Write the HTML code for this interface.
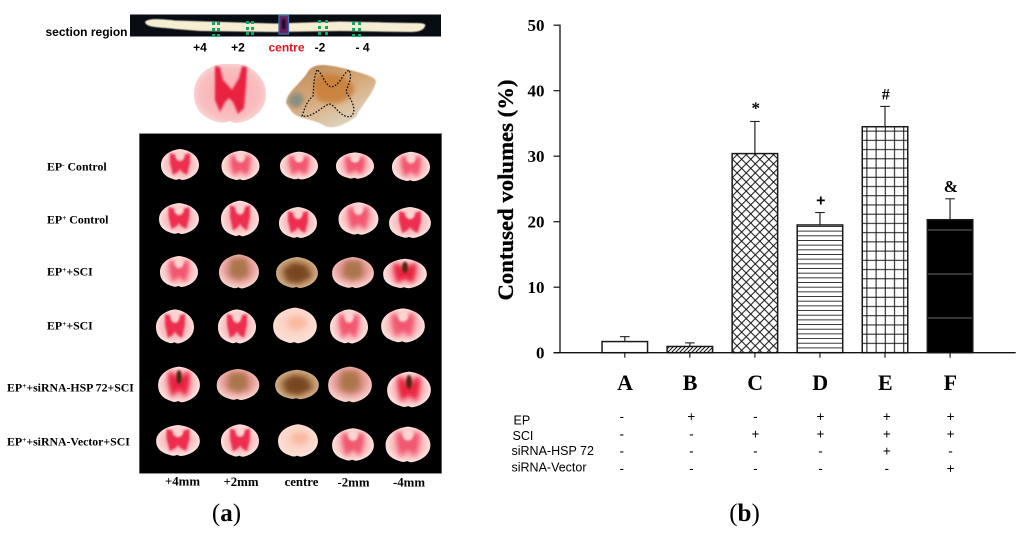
<!DOCTYPE html>
<html lang="en">
<head>
<meta charset="utf-8">
<title>Contused volumes figure</title>
<style>
html,body{margin:0;padding:0;background:#fff;}
#figure{display:block;width:1024px;height:538px;}
text{fill:#000;}
.serif{font-family:"Liberation Serif",serif;font-weight:bold;}
.sans{font-family:"Liberation Sans",sans-serif;}
</style>
</head>
<body>
<svg id="figure" xmlns="http://www.w3.org/2000/svg" width="1024" height="538" viewBox="0 0 1024 538">
<defs>
  <filter id="soft" x="-20%" y="-20%" width="140%" height="140%"><feGaussianBlur stdDeviation="0.4"/></filter>
  <filter id="blur1" x="-30%" y="-30%" width="160%" height="160%"><feGaussianBlur stdDeviation="1"/></filter>
  <filter id="blur2" x="-40%" y="-40%" width="180%" height="180%"><feGaussianBlur stdDeviation="2.2"/></filter>
  <radialGradient id="tissue" cx="50%" cy="50%" r="58%">
    <stop offset="0" stop-color="#f7a8b0"/><stop offset="0.62" stop-color="#fac4c4"/><stop offset="1" stop-color="#fef1ec"/>
  </radialGradient>
  <radialGradient id="tissue-big" cx="50%" cy="50%" r="56%">
    <stop offset="0" stop-color="#f9a9ae"/><stop offset="0.75" stop-color="#f9bfc1"/><stop offset="1" stop-color="#fbdcdb"/>
  </radialGradient>
  <radialGradient id="tissue-pale" cx="50%" cy="45%" r="60%">
    <stop offset="0" stop-color="#fbc6b4"/><stop offset="1" stop-color="#fde3da"/>
  </radialGradient>
  <radialGradient id="tissue-brown" cx="50%" cy="50%" r="58%">
    <stop offset="0" stop-color="#8d5b30"/><stop offset="0.6" stop-color="#b98a5e"/><stop offset="1" stop-color="#d9bfa2"/>
  </radialGradient>
  <radialGradient id="tissue-mixed" cx="50%" cy="42%" r="60%">
    <stop offset="0" stop-color="#b47650"/><stop offset="0.55" stop-color="#e59a95"/><stop offset="1" stop-color="#fbdcd6"/>
  </radialGradient>
  <linearGradient id="contused-fill" x1="0" y1="0" x2="0.6" y2="1">
    <stop offset="0" stop-color="#b98a58"/><stop offset="0.5" stop-color="#d6a676"/><stop offset="1" stop-color="#ded3bd"/>
  </linearGradient>
  <path id="outline" d="M-19,0 C-19,-9 -10,-15 0,-16 C10,-15 19,-9 19,0 C19,9 10,14 3,15 C1,15 0,14 -1,14 C-3,15 -5,15 -7,14 C-14,12 -19,8 -19,0 Z"/>
  <path id="butterfly" d="M-10,-12 L-4,-10 L0,-4 L4,-10 L10,-12 L10,-2 L7,10 L2,7 L0,4 L-2,7 L-7,10 L-10,-2 Z"/>
  <g id="sec-red">
    <use href="#outline" fill="url(#tissue)"/>
    <use href="#butterfly" fill="#ee2f50" filter="url(#blur1)"/>
    <ellipse cx="0" cy="-9" rx="4.5" ry="5" fill="#fbd3cf" filter="url(#blur1)"/>
  </g>
  <g id="sec-light">
    <use href="#outline" fill="url(#tissue)"/>
    <use href="#butterfly" fill="#f2566f" filter="url(#blur2)"/>
    <ellipse cx="0" cy="-9" rx="4.5" ry="5" fill="#fbd3cf" filter="url(#blur1)"/>
  </g>
  <g id="sec-brown">
    <use href="#outline" fill="url(#tissue-brown)"/>
    <path d="M-12,-3 L-3,-10 L8,-7 L13,3 L2,10 L-9,8 Z" fill="#6f3f1c" filter="url(#blur2)" opacity=".8"/>
  </g>
  <g id="sec-mixed">
    <use href="#outline" fill="url(#tissue-mixed)"/>
    <path d="M-7,-12 L7,-12 L9,3 L0,7 L-9,3 Z" fill="#a8744a" filter="url(#blur2)" opacity=".85"/>
  </g>
  <g id="sec-pale">
    <use href="#outline" fill="url(#tissue-pale)"/>
    <ellipse cx="2" cy="-3" rx="8" ry="5" fill="#f9b89f" filter="url(#blur2)"/>
  </g>
  <g id="sec-core">
    <use href="#outline" fill="url(#tissue)"/>
    <use href="#butterfly" fill="#ea2240" filter="url(#blur2)"/>
    <ellipse cx="0" cy="-7" rx="2.6" ry="6" fill="#52210f" filter="url(#blur1)"/>
  </g>

  <pattern id="hatch-b" patternUnits="userSpaceOnUse" width="4" height="4">
    <path d="M-1,1 L1,-1 M0,4 L4,0 M3,5 L5,3" stroke="#111" stroke-width="1"/>
  </pattern>
  <pattern id="hatch-c" patternUnits="userSpaceOnUse" width="9.1" height="9.1">
    <path d="M0,0 L9.1,9.1 M9.1,0 L0,9.1" stroke="#111" stroke-width="1"/>
  </pattern>
  <pattern id="hatch-d" patternUnits="userSpaceOnUse" width="10" height="4.67">
    <line x1="0" x2="10" y1="2.3" y2="2.3" stroke="#222" stroke-width="0.9"/>
  </pattern>
  <pattern id="hatch-e" patternUnits="userSpaceOnUse" width="9.2" height="9.23" patternTransform="translate(862.3,126.5)">
    <path d="M4.6,0 V9.23 M0,4.6 H9.2" stroke="#111" stroke-width="1"/>
  </pattern>
  <pattern id="hatch-f" patternUnits="userSpaceOnUse" width="10" height="44" patternTransform="translate(0,208)">
    <rect width="10" height="44" fill="#000"/>
    <line x1="0" x2="10" y1="22" y2="22" stroke="#777" stroke-width="0.9"/>
  </pattern>
</defs>

<!-- Panel (a): section region strip -->
<g>
  <text class="sans" x="45.5" y="36" font-size="12" font-weight="bold">section region</text>
  <rect x="130" y="14.5" width="311" height="22" fill="#080d14"/>
  <path d="M145,22 C148,18 160,19 175,20.5 L275,23.5 L340,21.5 L412,23 C420,23 424,23 425.5,25 C424,30 420,32 410,32 L340,31 L275,32 L200,31 L175,29 C160,27 146,28 145,22 Z" fill="#f6eed2" filter="url(#soft)"/>
  <g fill="#0ba868">
    <rect x="212" y="22" width="3" height="3"/><rect x="217" y="22" width="3" height="3"/><rect x="212" y="28" width="3" height="3"/><rect x="217" y="28" width="3" height="3"/><rect x="212" y="34" width="3" height="3"/><rect x="217" y="34" width="3" height="3"/>
    <rect x="246" y="21" width="3" height="3"/><rect x="251" y="21" width="3" height="3"/><rect x="246" y="27" width="3" height="3"/><rect x="251" y="27" width="3" height="3"/><rect x="246" y="32" width="3" height="3"/><rect x="251" y="32" width="3" height="3"/>
    <rect x="318" y="20" width="3" height="3"/><rect x="325" y="20" width="3" height="3"/><rect x="318" y="26" width="3" height="3"/><rect x="325" y="26" width="3" height="3"/><rect x="318" y="32" width="3" height="3"/><rect x="325" y="32" width="3" height="3"/>
    <rect x="352" y="22" width="3" height="3"/><rect x="358" y="22" width="3" height="3"/><rect x="352" y="28" width="3" height="3"/><rect x="358" y="28" width="3" height="3"/><rect x="352" y="34" width="3" height="3"/><rect x="358" y="34" width="3" height="3"/>
  </g>
  <rect x="279" y="15.5" width="9.5" height="18.5" fill="#6a1f62" stroke="#3a6fa5" stroke-width="1.3"/>
  <rect x="282" y="19" width="3.5" height="10" fill="#1a1030" filter="url(#soft)"/>
  <g class="sans" font-size="12" font-weight="bold">
    <text x="200" y="51.5" text-anchor="middle">+4</text>
    <text x="238" y="51.5" text-anchor="middle">+2</text>
    <text x="286.5" y="51.5" text-anchor="middle" style="fill:#e0141e">centre</text>
    <text x="320" y="51.5" text-anchor="middle">-2</text>
    <text x="362.5" y="51.5" text-anchor="middle">- 4</text>
  </g>
</g>

<!-- Enlarged sections -->
<g transform="translate(230,94)">
  <path d="M-36,0 C-36,-17 -24,-28 -8,-30 L8,-30 C24,-28 36,-15 36,0 C36,18 20,28 6,29 C3,29 1,27 -1,27 C-4,29 -8,29 -12,28 C-26,25 -36,16 -36,0 Z" fill="url(#tissue-big)"/>
  <path d="M-15,-28 L-10,-27 L-7,-14 L2,-4 L9,-16 L12,-28 L17,-27 L16,-8 L14,14 L8,20 L3,8 L-1,4 L-5,8 L-10,18 L-15,6 Z" fill="#ea2240" filter="url(#blur1)"/>
</g>
<g>
  <path d="M286,103 C288,90 300,85 309,70 C316,62 330,65 347,69 C360,73 376,76 376,82 C372,96 362,104 356,117 C345,124 335,130 325,126 C312,118 300,120 292,112 Z" fill="url(#contused-fill)" filter="url(#soft)"/>
  <path d="M318,75 C335,70 352,78 355,90 C348,102 335,108 318,100 C312,90 312,82 318,75 Z" fill="#c97a30" filter="url(#blur2)" opacity=".8"/>
  <path d="M288,100 C293,90 302,90 304,100 C300,110 292,110 288,100 Z" fill="#8a8f82" filter="url(#blur2)"/>
  <path d="M317,70 C313,80 314,88 313,96 C305,103 304,112 302,116 C312,118 320,108 329,104 C335,104 338,116 350,117 C358,112 352,100 346,92 C348,84 353,78 349,70 C342,74 340,86 331,87 C324,84 322,72 317,70 Z" fill="none" stroke="#111" stroke-width="1.3" stroke-dasharray="1.6 1.6"/>
</g>

<!-- Photo grid -->
<g>
  <rect x="139.3" y="133.5" width="302.4" height="340" fill="#000" stroke="#999" stroke-width="0.6"/>
  <use href="#sec-red"   transform="translate(180,165) scale(1,1)"/>
  <use href="#sec-light" transform="translate(240.5,166) scale(1,.95)"/>
  <use href="#sec-light" transform="translate(299,166) scale(1,.9)"/>
  <use href="#sec-light" transform="translate(355,166) scale(1,.85)"/>
  <use href="#sec-light" transform="translate(411,167) scale(1,.95)"/>
  <use href="#sec-red"   transform="translate(179,219) scale(1.05,1)"/>
  <use href="#sec-red"   transform="translate(240,219) scale(1,1.15)"/>
  <use href="#sec-red"   transform="translate(298,223) scale(1,1)"/>
  <use href="#sec-light" transform="translate(358.5,219) scale(1.05,1.05)"/>
  <use href="#sec-red"   transform="translate(410,223) scale(1.1,1)"/>
  <use href="#sec-light" transform="translate(179,272) scale(1,1)"/>
  <use href="#sec-mixed" transform="translate(239,272) scale(1.05,1.1)"/>
  <use href="#sec-brown" transform="translate(297,273) scale(1.1,1)"/>
  <use href="#sec-mixed" transform="translate(353,273) scale(1.1,1)"/>
  <use href="#sec-core"  transform="translate(405,274) scale(1.15,.95)"/>
  <use href="#sec-red"   transform="translate(175,327) scale(1,1.1)"/>
  <use href="#sec-red"   transform="translate(237,327) scale(1,1.1)"/>
  <use href="#sec-pale"  transform="translate(295,326) scale(1.15,1.15)"/>
  <use href="#sec-light" transform="translate(349,327) scale(1,1.1)"/>
  <use href="#sec-light" transform="translate(403,326) scale(1.15,1.1)"/>
  <use href="#sec-core"  transform="translate(179,385) scale(1.1,1.15)"/>
  <use href="#sec-mixed" transform="translate(238,385) scale(1.12,1)"/>
  <use href="#sec-brown" transform="translate(297,385) scale(1.15,.95)"/>
  <use href="#sec-mixed" transform="translate(350,385) scale(1.15,1.15)"/>
  <use href="#sec-core"  transform="translate(409,390) scale(1.15,1.15)"/>
  <use href="#sec-red"   transform="translate(178,441) scale(1.15,1)"/>
  <use href="#sec-red"   transform="translate(240,441) scale(1,1.05)"/>
  <use href="#sec-pale"  transform="translate(298,441) scale(1.05,1.05)"/>
  <use href="#sec-light" transform="translate(353,445) scale(1.1,1.05)"/>
  <use href="#sec-light" transform="translate(408,445) scale(1.18,1.15)"/>
</g>

<!-- Row labels -->
<g class="serif" font-size="11.8">
  <text x="47" y="170.5">EP<tspan font-size="7.5" dy="-3.5">-</tspan><tspan dy="3.5"> Control</tspan></text>
  <text x="47" y="223.5">EP<tspan font-size="7.5" dy="-3.5">+</tspan><tspan dy="3.5"> Control</tspan></text>
  <text x="47" y="275.5">EP<tspan font-size="7.5" dy="-3.5">+</tspan><tspan dy="3.5">+SCI</tspan></text>
  <text x="47" y="329.5">EP<tspan font-size="7.5" dy="-3.5">+</tspan><tspan dy="3.5">+SCI</tspan></text>
  <text x="7" y="391.5">EP<tspan font-size="7.5" dy="-3.5">+</tspan><tspan dy="3.5">+siRNA-HSP 72+SCI</tspan></text>
  <text x="7" y="445.5">EP<tspan font-size="7.5" dy="-3.5">+</tspan><tspan dy="3.5">+siRNA-Vector+SCI</tspan></text>
</g>
<g class="serif" font-size="12.8" text-anchor="middle">
  <text x="182.5" y="485.5">+4mm</text>
  <text x="241" y="486">+2mm</text>
  <text x="301.5" y="486">centre</text>
  <text x="353.5" y="486.5">-2mm</text>
  <text x="409" y="486.5">-4mm</text>
</g>
<text x="226.5" y="521" text-anchor="middle" font-family="Liberation Serif, serif" font-size="25">(<tspan font-weight="bold">a</tspan>)</text>
<text x="744.5" y="521" text-anchor="middle" font-family="Liberation Serif, serif" font-size="25">(<tspan font-weight="bold">b</tspan>)</text>

<!-- Panel (b): chart -->
<g id="chart"></g>
<g id="condition-table"></g>

<script>
const categories = ['A', 'B', 'C', 'D', 'E', 'F'];
const barValues = [1.7, 0.95, 30.4, 19.5, 34.5, 20.3];
const errorValues = [0.75, 0.55, 4.9, 1.9, 3.1, 3.2];
const significance = ['', '', '*', '+', '#', '&'];
const yTicks = [0, 10, 20, 30, 40, 50];
const hatches = ['#fff', 'url(#hatch-b)', 'url(#hatch-c)', 'url(#hatch-d)', 'url(#hatch-e)', 'url(#hatch-f)'];
const conditionNames = ['EP', 'SCI', 'siRNA-HSP 72', 'siRNA-Vector'];
const conditionEP = ['-', '+', '-', '+', '+', '+'];
const conditionSCI = ['-', '-', '+', '+', '+', '+'];
const conditionHSP = ['-', '-', '-', '-', '+', '-'];
const conditionVector = ['-', '-', '-', '-', '-', '+'];

const NS = 'http://www.w3.org/2000/svg';
const chart = document.getElementById('chart');
const tableGroup = document.getElementById('condition-table');

function yScale(v) { return 352.7 - v * 6.55; }
function xScale(i) { return 624.8 + i * 65.05; }
function make(tag, parent, attrs, text) {
  const el = document.createElementNS(NS, tag);
  for (const k in attrs) el.setAttribute(k, attrs[k]);
  if (text !== undefined) el.textContent = text;
  parent.appendChild(el);
  return el;
}
const barWidth = 45.5;

barValues.forEach(function (v, i) {
  const cx = xScale(i);
  const top = yScale(v);
  const errTop = yScale(v + errorValues[i]);
  const stem = make('line', chart, { x1: cx, x2: cx, y1: top, y2: errTop, stroke: '#333', 'stroke-width': 1.3 });
  
  
  const cap = make('line', chart, { x1: cx - 4.8, x2: cx + 4.8, y1: errTop, y2: errTop, stroke: '#222', 'stroke-width': 1.1 });
  
  
  const bg = make('rect', chart, { x: cx - barWidth / 2, y: top, width: barWidth, height: yScale(0) - top, fill: '#fff' });
  
  
  const bar = make('rect', chart, { x: cx - barWidth / 2, y: top, width: barWidth, height: yScale(0) - top, fill: hatches[i], stroke: '#1a1a1a', 'stroke-width': 1.5 });
  
  
  if (significance[i]) {
    const sym = significance[i];
    const mark = make('text', chart, { x: cx + 0.8, y: errTop - (sym === '*' ? 8 : sym === '+' ? 7 : 7), 'text-anchor': 'middle', 'font-family': sym === '+' ? '"Liberation Sans",sans-serif' : '"Liberation Serif",serif', 'font-weight': 'bold', 'font-size': sym === '&' ? 17 : sym === '*' ? 17 : 16 }, sym);
    
    
  }
  const tick = make('line', chart, { x1: cx, x2: cx, y1: yScale(0), y2: yScale(0) + 5, stroke: '#222', 'stroke-width': 1.2 });
  
  
  const label = make('text', chart, { x: cx + 0.3, y: 390, 'text-anchor': 'middle', class: 'serif', 'font-size': 22 }, categories[i]);
  
  
});

yTicks.forEach(function (t) {
  const y = yScale(t);
  const tick = make('line', chart, { x1: 553.5, x2: 560, y1: y, y2: y, stroke: '#222', 'stroke-width': 1.3 });
  
  
  const label = make('text', chart, { x: 544.5, y: y + 5.8, 'text-anchor': 'end', class: 'serif', 'font-size': 17 }, String(t));
  
  
});

const yAxis = make('line', chart, { x1: 560, x2: 560, y1: yScale(50) - 0.6, y2: yScale(0) + 0.6, stroke: '#222', 'stroke-width': 1.4 });


const xAxis = make('line', chart, { x1: 553.5, x2: 1015.7, y1: yScale(0), y2: yScale(0), stroke: '#111', 'stroke-width': 1.4 });


const yTitle = make('text', chart, { transform: 'translate(513,190) rotate(-90)', 'text-anchor': 'middle', class: 'serif', 'font-size': 22, textLength: 221, lengthAdjust: 'spacingAndGlyphs', stroke: '#000', 'stroke-width': 0.3 }, 'Contused volumes (%)');



const conditionRows = [conditionEP, conditionSCI, conditionHSP, conditionVector];
function rowY(r) { return 420.5 + r * 17.3; }
const nameLefts = [513.5, 512.5, 511.5, 511.5];
const nameBaselines = [424.5, 440, 455, 471.5];
conditionNames.forEach(function (name, r) {
  const nameEl = make('text', tableGroup, { x: nameLefts[r], y: nameBaselines[r], class: 'sans', 'font-size': 12.5 }, name);
  
  
  conditionRows[r].forEach(function (sym, c) {
    const mark = make('text', tableGroup, { x: xScale(c) + (c === 0 ? -3 : c === 1 ? 1.5 : c === 4 ? 1.8 : 0.5), y: rowY(r) + 0.5, 'text-anchor': 'middle', class: 'sans', 'font-size': 13.5 }, sym);
    
    
  });
});
</script>
</svg>
</body>
</html>
